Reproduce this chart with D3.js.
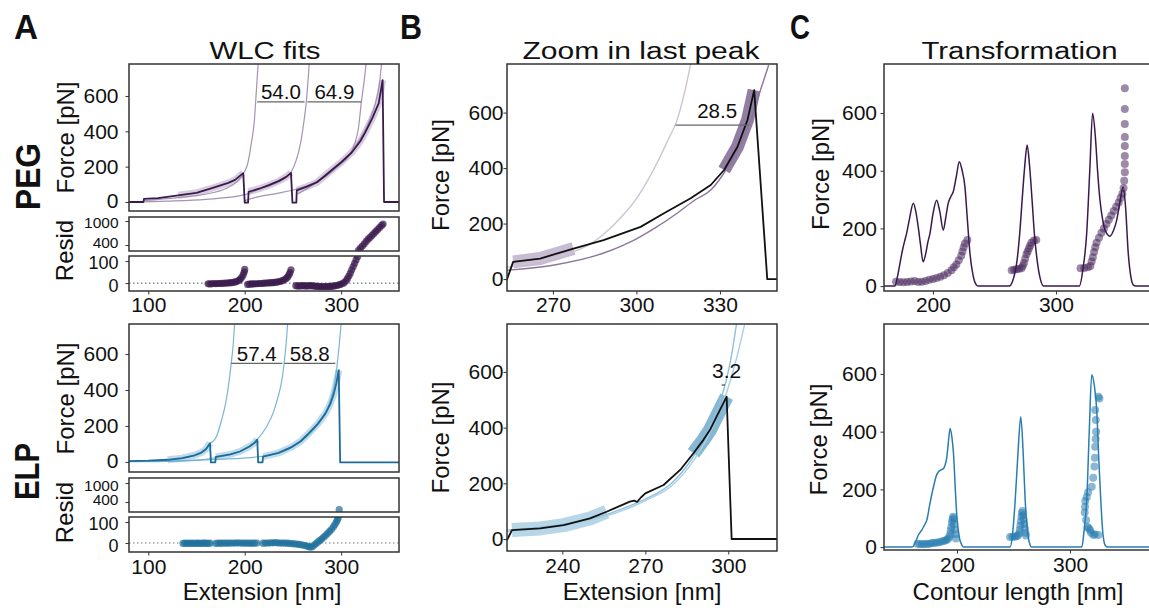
<!DOCTYPE html>
<html><head><meta charset="utf-8">
<script src="https://cdn.jsdelivr.net/npm/d3@7"></script>
<style>body{margin:0;background:#fff}</style>
</head><body><svg id="fig" width="1149" height="608"></svg>
<script>
// ---------------- DATA ----------------
// Panel A, PEG: force trace (extension nm, force pN)
const pegTrace = [[80,0],[95,0],[95.5,18],[110,22],[131,38],[150,52],[166,78],[183,108],[190,125],[196.5,155],[198.5,163],[200,-4],[203.5,-4],[204,58],[215,75],[225,95],[235,118],[243,142],[248,165],[249.5,-4],[253.5,-4],[254,66],[265,88],[275,112],[290,180],[300,225],[311,280],[320,345],[325,394],[332,470],[339,560],[343,690],[344.5,0],[360,0]];
const pegBandRanges = [[130,198.5],[204,248],[254,343]];
const pegFit1 = [[95,8],[130,25],[160,45],[180,75],[192,115],[199,165],[203,215],[207,337],[210,460],[212,622],[214,790]];
const pegFit2 = [[80,0],[120,5],[160,15],[199,40],[215,72],[230,100],[240,128],[248,168],[253,230],[258,335],[261,440],[264,573],[267,790]];
const pegFit3 = [[200,8],[215,30],[235,50],[253,72],[270,105],[285,150],[297,205],[308,260],[314,330],[318,420],[321,567],[324,690],[326,790]];
const pegFit4 = [[255,45],[270,95],[285,150],[300,220],[310,280],[320,360],[330,470],[336,570],[340,680],[342,790]];
const pegDeltaLabels = ["54.0","64.9"];
const pegDeltaSpans = [[213,262,567],[265,321,567]];
const pegResidLow = [[162,-3],[164,-4],[166,-3],[168,-2],[170,-3],[172,-2],[174,-2],[176,-1],[178,-1],[180,0],[182,0],[184,1],[186,2],[188,3],[190,5],[192,8],[194,12],[195.5,18],[197,26],[198.5,38],[199.5,50],[200,62],
 [203,-6],[205,-5],[207,-4],[209,-4],[211,-3],[213,-3],[215,-2],[217,-2],[219,-1],[221,0],[223,0],[225,1],[227,2],[229,2],[231,3],[233,4],[235,6],[237,8],[239,11],[241,15],[243,21],[244.5,28],[246,38],[247,48],[248,60],
 [253,-12],[255,-13],[257,-13],[259,-12],[261,-12],[263,-13],[265,-13],[267,-12],[269,-12],[271,-13],[273,-14],[275,-15],[277,-15],[279,-16],[281,-16],[283,-16],[285,-16],[287,-15],[289,-15],[291,-14],[293,-13],[295,-11],[297,-9],[299,-6],[301,-3],[303,2],[305,10],[306.5,20],[308,32],[309.5,45],[311,60],[312.5,75],[314,90],[315.5,105],[317,120]];
const pegResidHigh = [[318,265],[320,320],[322,375],[324,430],[326,490],[328,545],[330,590],[332,640],[334,690],[336,740],[338,790],[340,840],[342,890],[343.5,925]];

// Panel A, ELP
const elpTrace = [[80,5],[100,7],[120,12],[135,21],[148,37],[155,52],[160,72],[164,104],[165,-3],[169.5,-3],[170,28],[185,42],[195,58],[205,86],[210,105],[213,124],[214,-3],[218.5,-3],[219,30],[235,50],[249,84],[258,115],[266.6,160],[276,213],[283.8,270],[289,325],[292.4,380],[295,437],[297.5,510],[299,-3],[360,-3]];
const elpBandRanges = [[118,164],[170,213],[219,297.5]];
const elpFit1 = [[80,3],[120,10],[145,30],[158,62],[164,100],[170.7,141],[176,233],[180,320],[183,418],[186,548],[188,650],[189.5,767]];
const elpFit2 = [[100,3],[150,10],[175,30],[195,58],[205,88],[213,125],[222,190],[230,280],[235,370],[239,470],[241,557],[243,660],[244.5,767]];
const elpFit3 = [[80,1],[130,5],[170,14],[220,32],[249,80],[266,150],[280,240],[288,330],[293,430],[296,548],[298,650],[300,767]];
const elpDeltaLabels = ["57.4","58.8"];
const elpDeltaSpans = [[186,239,548],[241,294,548]];
const elpResidLow = [[136,-2],[138,-1],[140,-2],[142,-1],[144,-2],[146,-1],[148,-2],[150,-1],[152,-1],[154,-2],[156,-1],[158,-1],[160,-1],[162,-2],[164,-1],
 [170,-2],[172.5,-1],[175,-1],[177.5,-1],[180,0],[182.5,-1],[185,0],[187.5,0],[190,0],[192.5,1],[195,0],[197.5,0],[200,-1],[202.5,0],[205,-1],[207.5,-1],[210,-1],[212.5,0],
 [219,-1],[221.5,0],[224,0],[226.5,1],[229,1],[231.5,2],[234,1],[236.5,0],[239,0],[241.5,0],[244,-1],[246.5,-2],[249,-3],[251.5,-4],[254,-5],[256.5,-7],[259,-9],[261.5,-11],[264,-14],[266,-17],[268,-20],[270,-18],[272,-10],[274,-3],[276,5],[278,12],[280,20],[282,28],[284,37],[286,46],[288,55],[290,65],[292,77],[293.5,88],[295,100],[296,110],[297,120]];
const elpResidHigh = [[298,158]];

// Panel B (zoom in last peak)
const pegZoomTrace = [[253.4,-4],[255.7,62],[265.4,74],[277.4,110],[288.2,140],[301.5,188],[309.9,237],[319.5,291],[326.7,339],[331.5,393],[336.3,477],[339.9,573],[342.3,681],[347,0],[351,0]];
const pegZoomBands = [[253.5,287],[331,342.3]];
const pegZoomFitA = [[253.5,42],[265,64],[275,90],[283,124],[288,160],[295,228],[300,290],[304,355],[308,430],[311.5,505],[314.5,570],[317,660],[319.5,775]];
const pegZoomFitB = [[253.5,32],[270,50],[288,93],[300,145],[307.3,188],[315,240],[321,285],[326.7,321],[331,375],[335,441],[338,500],[340.4,555],[343.4,645],[347.5,771]];
const pegZoomLabel = "28.5";
const pegZoomSpan = [314,340.4,555];
const elpZoomTrace = [[220,-4],[221.8,32],[232,38],[240.5,50],[250,74],[256,98],[264.4,134],[266,138],[267,133],[268.5,150],[270,164],[276.6,194],[282.6,248],[287.4,308],[291,356],[293.4,392],[296.4,452],[299.4,511],[301.2,0],[318,0]];
const elpZoomBands = [[220,256],[287.4,299.4]];
const elpZoomFitA = [[220,32],[240,52],[255,85],[265,122],[270,143],[280,205],[287,290],[292,375],[296,465],[299,560],[301,650],[303,775]];
const elpZoomFitB = [[220,28],[240,48],[255,80],[265,115],[270,138],[280,195],[287,275],[292,355],[296,440],[300,545],[303,650],[306,775]];
const elpZoomLabel = "3.2";
const elpZoomSpan = [297.6,298.8,553];

// Panel C (transformation to contour length)
const pegKde = [[160,0],[169,0],[171,30],[173.2,79],[175,120],[177.2,160],[178.6,183],[181,235],[184,287],[186,260],[188,206],[190,140],[192,84],[194,110],[196,155],[197.6,183],[200,250],[203,298],[205.5,260],[208.4,194],[210.5,240],[212.4,287],[214.5,310],[216.5,327],[219,380],[221.4,431],[223.5,405],[226,344],[228,230],[230.1,113],[232.5,40],[235.5,3],[237,0],[262,0],[265,20],[268.4,90],[270.5,180],[272.5,298],[274.5,410],[276.6,489],[278.5,420],[280.6,298],[282.5,180],[284.7,90],[287,30],[290,0],[319,0],[322,60],[325,183],[327.5,400],[329.8,599],[332,520],[334,390],[335.8,298],[338,230],[340,194],[343.9,173],[347,195],[349.4,229],[352,290],[354.6,344],[356.5,280],[358.8,113],[361,30],[363,3],[365,0],[390,0]];
const pegContourPts = [[170,15],[173,14],[176,13],[179,14],[182,16],[185,18],[188,14],[191,15],[194,18],[197,22],[200,25],[203,28],[206,32],[209,38],[212,45],[215,55],[217,65],[219,75],[221,90],[223,105],[224,120],[225,135],[226,148],[228,160],
 [264,55],[266,57],[268,58],[270,60],[272,62],[273,70],[274,80],[275,95],[276,110],[277,120],[278,130],[279,140],[280,150],[282,158],[284,160],
 [320,62],[323,63],[326,65],[328,70],[329,85],[330,100],[331,118],[332,135],[333,150],[335,168],[337,185],[339,200],[341,215],[343,230],[345,245],[347,260],[349,275],[351,290],[352.5,305],[354,320],[355,340],[355.5,365],[356,395],[356,423],[356,451],[356,486],[356,517],[356,562],[356,614],[356,686]];
const elpKde = [[135,0],[160,0],[161.4,3],[163.5,20],[165.8,42],[168.8,59],[171,75],[173.3,94],[176,150],[179.2,209],[181.5,245],[183.6,261],[186,268],[188,272],[189.5,285],[191,312],[192.5,370],[193.9,411],[195.5,380],[196.9,324],[198.5,200],[199.9,104],[202,35],[204.3,7],[206,0],[247,0],[249,40],[251.5,163],[254,330],[256.4,452],[258.5,330],[260.3,163],[262.5,50],[264.7,7],[266,0],[310.4,0],[312.5,60],[314.8,163],[317,400],[319.2,597],[321.5,560],[323.6,475],[325.5,300],[327.2,163],[329,50],[331,7],[333,0],[385,0]];
const elpContourPts = [[165,12],[167,10],[169,11],[171,10],[173,12],[175,11],[177,13],[179,14],[181,15],[183,16],[185,18],[187,20],[189,22],[190.5,25],[192,28],[193,35],[194,45],[194.5,58],[195,70],[195.5,85],[196,95],[196.5,105],[197,100],[197.5,80],[198,60],[198.5,45],[199,30],
 [247,35],[249,36],[251,36],[252.5,38],[254,40],[255,48],[255.5,60],[256,75],[256.5,90],[257,105],[257.5,118],[258,125],[258.5,110],[259,95],[259.5,80],[260,65],[260.5,50],[261,40],
 [313.3,140],[314.2,94],[317.7,59],[320.7,42],[325.1,42],[322,45],[318.5,50],[314.8,174],[316,190],[319.2,209],[320.5,240],[321.6,279],[322,310],[322.2,348],[322.7,375],[323.1,400],[322.8,440],[322.2,475],[325.1,521],[326,515],[313,120],[313.5,160],[315.5,70],[316.5,65]];

// Tick values and texts
const forceTicks = [0,200,400,600];
const residHighTicks = [400,1000];
const residLowTicks = [0,100];
const xTicksA = [100,200,300];
const xTicksBpeg = [270,300,330];
const xTicksBelp = [240,270,300];
const xTicksC = [200,300];
const titles = ["WLC fits","Zoom in last peak","Transformation"];
const panelLetters = ["A","B","C"];
const rowNames = ["PEG","ELP"];

// ---------------- DRAWING ----------------
const FONT = "'Liberation Sans', Arial, Helvetica, sans-serif";
const svg = d3.select('#fig');
let clipN = 0;
function panel(px0, px1, py0, py1, xdom, ydom) {
  const x = d3.scaleLinear().domain(xdom).range([px0, px1]);
  const y = d3.scaleLinear().domain(ydom).range([py1, py0]);
  const id = 'clip' + (clipN++);
  svg.append('clipPath').attr('id', id).append('rect')
    .attr('x', px0).attr('y', py0).attr('width', px1 - px0).attr('height', py1 - py0);
  const g = svg.append('g').attr('clip-path', `url(#${id})`);
  return {x, y, g, px0, px1, py0, py1};
}
function frame(p) {
  svg.append('rect').attr('x', p.px0).attr('y', p.py0)
    .attr('width', p.px1 - p.px0).attr('height', p.py1 - p.py0)
    .attr('fill', 'none').attr('stroke', '#333').attr('stroke-width', 1.5);
}
function styleAxis(a, fs) {
  a.select('.domain').remove();
  a.attr('font-family', null).attr('font-size', null);
  a.selectAll('text').style('font-family', FONT).style('font-size', fs + 'px').attr('fill', '#111');
  a.selectAll('line').attr('stroke', '#333').attr('stroke-width', 1);
}
function yAxis(p, ticks, fs, pad, dyFn) {
  const a = svg.append('g').attr('transform', `translate(${p.px0},0)`)
    .call(d3.axisLeft(p.y).tickValues(ticks).tickSize(3.5).tickPadding(pad).tickFormat(d3.format('d')));
  styleAxis(a, fs);
  if (dyFn) a.selectAll('text').attr('dy', dyFn);
}
function xAxis(p, ticks, fs, pad) {
  const a = svg.append('g').attr('transform', `translate(0,${p.py1})`)
    .call(d3.axisBottom(p.x).tickValues(ticks).tickSize(3.5).tickPadding(pad).tickFormat(d3.format('d')));
  styleAxis(a, fs);
}
function drawLine(p, data, color, width, curve, opacity, cap) {
  p.g.append('path').datum(data)
    .attr('d', d3.line().x(d => p.x(d[0])).y(d => p.y(d[1])).curve(curve || d3.curveLinear))
    .attr('fill', 'none').attr('stroke', color).attr('stroke-width', width)
    .attr('stroke-opacity', opacity == null ? 1 : opacity)
    .attr('stroke-linejoin', 'round').attr('stroke-linecap', cap || 'butt');
}
function band(p, trace, range, color, width) {
  const seg = trace.filter(d => d[0] >= range[0] && d[0] <= range[1] && d[1] > 1);
  drawLine(p, seg, color, width, d3.curveLinear, 1, 'butt');
}
function dots(p, data, color, r, op) {
  p.g.selectAll(null).data(data).enter().append('circle')
    .attr('cx', d => p.x(d[0])).attr('cy', d => p.y(d[1])).attr('r', r)
    .attr('fill', color).attr('fill-opacity', op);
}
function text(x, y, str, fs, opts) {
  opts = opts || {};
  const t = svg.append('text').attr('x', x).attr('y', y).text(str)
    .style('font-family', opts.family || FONT).style('font-size', fs + 'px')
    .attr('font-weight', opts.weight || 'normal').attr('fill', opts.fill || '#111')
    .attr('text-anchor', opts.anchor || 'middle');
  if (opts.len) t.attr('textLength', opts.len).attr('lengthAdjust', 'spacingAndGlyphs');
  return t;
}
function vtext(cx, cy, str, fs, opts) {
  opts = opts || {};
  const t = svg.append('text').attr('transform', `translate(${cx},${cy}) rotate(-90)`).text(str)
    .style('font-family', opts.family || FONT).style('font-size', fs + 'px')
    .attr('font-weight', opts.weight || 'normal').attr('fill', '#111').attr('text-anchor', 'middle');
  if (opts.len) t.attr('textLength', opts.len).attr('lengthAdjust', 'spacingAndGlyphs');
}
function deltaLine(p, span, color) {
  p.g.append('line').attr('x1', p.x(span[0])).attr('x2', p.x(span[1]))
    .attr('y1', p.y(span[2])).attr('y2', p.y(span[2]))
    .attr('stroke', color || '#666').attr('stroke-width', 1.3);
}
function zeroLine(p) {
  p.g.append('line').attr('x1', p.px0).attr('x2', p.px1).attr('y1', p.y(0)).attr('y2', p.y(0))
    .attr('stroke', '#777').attr('stroke-width', 1.2).attr('stroke-dasharray', '1.5,2.5');
}

const PEG = {dark: '#3a1a4d', fit: '#9a87a9', band: 'rgba(130,100,155,0.32)', dot: '#3a1a4d'};
const ELP = {dark: '#1c6b98', fit: '#6aaed2', band: 'rgba(90,160,205,0.38)', dot: '#1f6f9c'};

// ---- Panel A ----
const rowsA = [
  {main: panel(129,399,64,211,[80,360],[-51,781]), hi: panel(129,399,217,251,[80,360],[250,1100]), lo: panel(129,399,256,291,[80,360],[-36,123]),
   c: PEG, trace: pegTrace, bands: pegBandRanges, fits: [pegFit1,pegFit2,pegFit3,pegFit4], spans: pegDeltaSpans, labels: pegDeltaLabels,
   rlo: pegResidLow, rhi: pegResidHigh},
  {main: panel(129,399,324,472,[80,360],[-56,767]), hi: panel(129,399,478,512,[80,360],[85,1160]), lo: panel(129,399,517,552,[80,360],[-43,124]),
   c: ELP, trace: elpTrace, bands: elpBandRanges, fits: [elpFit1,elpFit2,elpFit3], spans: elpDeltaSpans, labels: elpDeltaLabels,
   rlo: elpResidLow, rhi: elpResidHigh}
];
rowsA.forEach((r, i) => {
  const p = r.main;
  r.bands.forEach(b => band(p, r.trace, b, r.c.band, 7));
  r.fits.forEach(f => drawLine(p, f, r.c.fit, 1.2, d3.curveMonotoneX, 0.9));
  drawLine(p, r.trace, r.c.dark, 1.8);
  r.spans.forEach((s, k) => {
    deltaLine(p, s);
    text(p.x((s[0] + s[1]) / 2), p.y(s[2]) - 2.5, r.labels[k], 20.5);
  });
  yAxis(p, forceTicks, 21, 7, d => d === 0 ? '0.25em' : '0.32em');
  yAxis(r.hi, residHighTicks, 15.5, 7, d => d === 400 ? '0.18em' : '0.45em');
  yAxis(r.lo, residLowTicks, 18, 7, d => d === 100 ? '0.4em' : '0.45em');
  zeroLine(r.lo);
  dots(r.hi, r.rhi, r.c.dot, 3.6, 0.7);
  dots(r.lo, r.rlo, r.c.dot, 3.6, 0.7);
  xAxis(r.lo, xTicksA, 21, i === 0 ? 3 : 4);
  frame(p); frame(r.hi); frame(r.lo);
});
vtext(74, 137.5, 'Force [pN]', 24);
vtext(73, 250.5, 'Resid', 24);
vtext(74, 398.5, 'Force [pN]', 24);
vtext(73, 512.5, 'Resid', 24);
text(262, 600, 'Extension [nm]', 24);

// ---- Panel B ----
const pB1 = panel(507,777,64,291,[253.5,350.5],[-43,775]);
const pB2 = panel(507,777,324,551,[220,317.6],[-43,772]);
band(pB1, pegZoomTrace, pegZoomBands[0], 'rgba(125,95,148,0.42)', 13);
band(pB1, pegZoomTrace, pegZoomBands[1], 'rgba(95,65,120,0.68)', 13);
drawLine(pB1, pegZoomFitA, '#cdc3d5', 1.4, d3.curveMonotoneX);
drawLine(pB1, pegZoomFitB, '#8c779b', 1.4, d3.curveMonotoneX);
drawLine(pB1, pegZoomTrace, '#111', 1.8);
deltaLine(pB1, pegZoomSpan);
text(pB1.x(329), pB1.y(582), pegZoomLabel, 20.5);
yAxis(pB1, forceTicks, 21, 0);
xAxis(pB1, xTicksBpeg, 21, 3);
frame(pB1);

band(pB2, elpZoomTrace, elpZoomBands[0], 'rgba(95,165,205,0.45)', 14);
band(pB2, elpZoomTrace, elpZoomBands[1], 'rgba(60,140,185,0.62)', 14);
drawLine(pB2, elpZoomFitA, '#8cc0dd', 1.4, d3.curveMonotoneX);
drawLine(pB2, elpZoomFitB, '#a9d0e6', 1.4, d3.curveMonotoneX);
drawLine(pB2, elpZoomTrace, '#111', 1.8);
deltaLine(pB2, elpZoomSpan, '#555');
text(pB2.x(299.4), pB2.y(577), elpZoomLabel, 21);
yAxis(pB2, forceTicks, 21, 0);
xAxis(pB2, xTicksBelp, 21, 4);
frame(pB2);
vtext(449, 175, 'Force [pN]', 24);
vtext(449, 437.5, 'Force [pN]', 24);
text(642, 600, 'Extension [nm]', 24);

// ---- Panel C ----
const pC1 = panel(884,1160,64,291,[160.2,384.6],[-17,770]);
const pC2 = panel(884,1160,324,550,[135.4,379.6],[-10,773]);
dots(pC1, pegContourPts, '#4a2a5e', 4, 0.55);
drawLine(pC1, pegKde, PEG.dark, 1.5, d3.curveMonotoneX);
yAxis(pC1, forceTicks, 21, 3.5);
xAxis(pC1, xTicksC, 21, 3);
frame(pC1);
dots(pC2, elpContourPts, '#2a7db0', 4, 0.55);
drawLine(pC2, elpKde, '#2a7db0', 1.5, d3.curveMonotoneX);
yAxis(pC2, forceTicks, 21, 3.5);
xAxis(pC2, xTicksC, 21, 4);
frame(pC2);
vtext(829, 174, 'Force [pN]', 24);
vtext(827, 439.5, 'Force [pN]', 24);
text(1018, 600, 'Contour length [nm]', 24);

// ---- Titles, letters, row names ----
text(265, 59, titles[0], 23, {len: 111});
text(641, 59, titles[1], 23, {len: 237});
text(1019.5, 59, titles[2], 23, {len: 196});
text(14, 39, panelLetters[0], 35, {anchor: 'start', weight: 'bold', len: 24});
text(400, 39, panelLetters[1], 35, {anchor: 'start', weight: 'bold', len: 22});
text(790, 39, panelLetters[2], 35, {anchor: 'start', weight: 'bold', len: 20});
vtext(40, 176.5, rowNames[0], 35, {weight: 'bold', len: 67});
vtext(39, 471.5, rowNames[1], 35, {weight: 'bold', len: 57});
</script></body></html>
